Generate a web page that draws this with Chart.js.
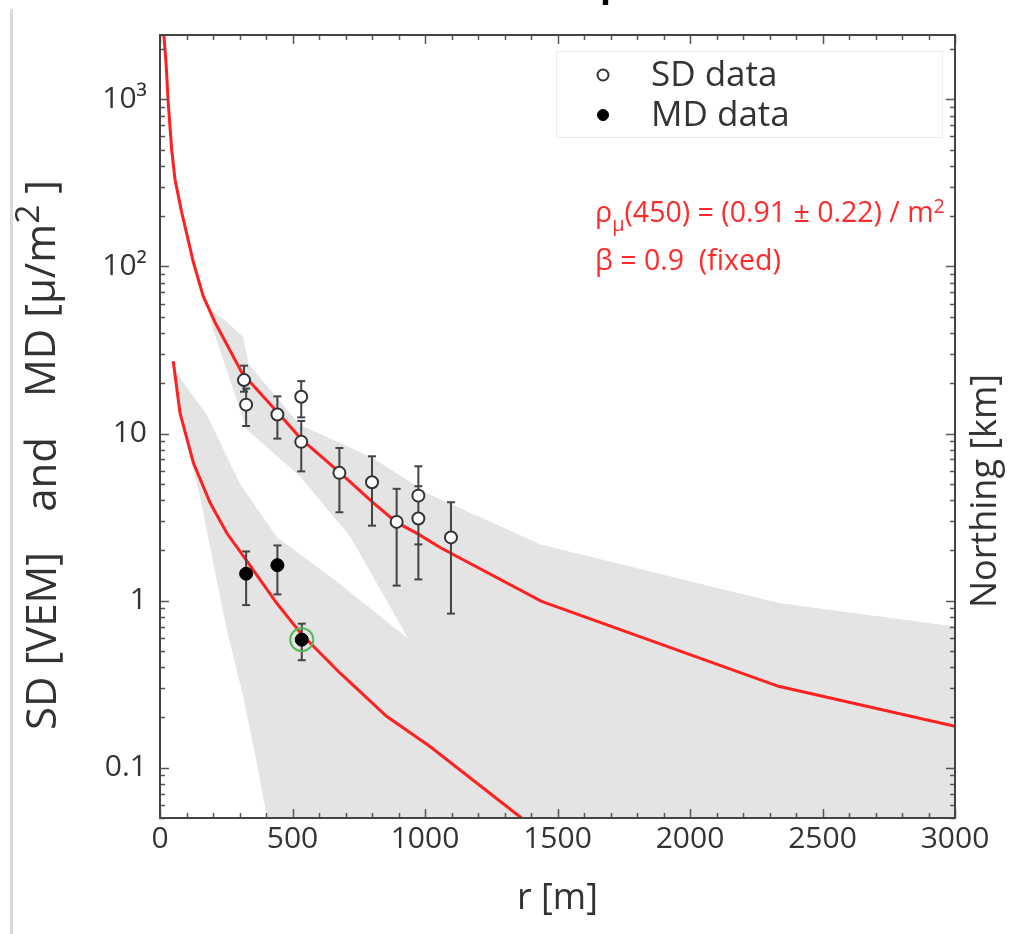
<!DOCTYPE html>
<html><head><meta charset="utf-8">
<script src="https://cdn.jsdelivr.net/npm/chart.js@4/dist/chart.umd.min.js"></script>
<style>
html,body{margin:0;padding:0;background:#fff;}
#wrap{position:relative;width:1010px;height:934px;overflow:hidden;font-family:'Open Sans',sans-serif;}
canvas{position:absolute;left:0;top:0;}
.pageline{position:absolute;left:10px;top:9px;width:3px;height:925px;background:#d9d9d9;}
.frag{position:absolute;left:600px;top:-35px;font:bold 36px/36px 'Open Sans',sans-serif;color:#000;}
.ytitle{position:absolute;width:550px;height:50px;left:-235px;top:430px;transform:rotate(-90deg);display:flex;justify-content:space-between;align-items:center;font-size:42px;color:#333;white-space:nowrap;line-height:50px;}
.rtitle{position:absolute;width:240px;height:44px;left:863px;top:469px;transform:rotate(-90deg);text-align:center;font-size:36px;line-height:44px;color:#333;white-space:nowrap;}
.ann{position:absolute;left:595px;font-size:28.5px;line-height:32px;color:#ff2a2a;white-space:pre;}
.sub{font-size:70%;position:relative;top:0.45em;}
.sup{font-size:70%;position:relative;top:-0.45em;}
.sup2{font-size:80%;position:relative;top:-0.45em;}
</style></head>
<body>
<div id="wrap">
<canvas id="c" width="1010" height="934"></canvas>
<div class="pageline"></div>
<div class="frag">p</div>
<div class="ytitle"><span>SD [VEM]</span><span>and</span><span>MD [μ/m<span class="sup2">2</span> ]</span></div>
<div class="rtitle">Northing [km]</div>
<div class="ann" style="top:195px">ρ<span class="sub">μ</span>(450) = (0.91 ± 0.22) / m<span class="sup">2</span></div>
<div class="ann" style="top:243px">β = 0.9  (fixed)</div>
</div>
<script>
// ---- tick labels ----
const xTickVals = [0, 500, 1000, 1500, 2000, 2500, 3000];
const xTickLabels = ['0', '500', '1000', '1500', '2000', '2500', '3000'];
const yTickVals = [0.1, 1, 10, 100, 1000];
const yTickLabels = ['0.1', '1', '10', '10²', '10³'];

// ---- SD data (open circles) ----
const sdR  = [317, 325, 443, 533, 533, 677, 800, 893, 975, 975, 1098];
const sdV  = [20.9, 14.9, 13.0, 16.6, 8.92, 5.82, 5.11, 2.96, 4.25, 3.10, 2.39];
const sdLo = [17.8, 11.1, 9.33, 12.5, 5.94, 3.38, 2.81, 1.23, 2.17, 1.34, 0.836];
const sdHi = [25.5, 18.6, 16.7, 20.6, 11.9, 8.2, 7.31, 4.67, 6.37, 4.84, 3.88];

// ---- MD data (filled) ----
const mdR  = [325, 443, 535];
const mdV  = [1.45, 1.63, 0.584];
const mdLo = [0.94, 1.09, 0.44];
const mdHi = [1.97, 2.14, 0.728];

// highlighted MD station
const hlR = [535];
const hlV = [0.584];

// ---- fitted LDF curves ----
const fitSdR = [14.5, 22.6, 31, 44, 56.6, 82, 126, 163, 208, 310, 440, 535, 679, 805, 893, 975, 1057, 1440, 2334, 3000];
const fitSdV = [2450, 1667, 959, 502, 332, 211, 106, 66.4, 46.2, 23, 13.6, 9.2, 5.84, 3.85, 2.94, 2.5, 2.08, 0.99, 0.307, 0.177];
const fitMdR = [50, 75.5, 126, 189, 252, 333, 440, 535, 679, 855, 1019, 1364, 1400];
const fitMdV = [27.1, 13.3, 6.68, 3.85, 2.54, 1.68, 0.968, 0.626, 0.369, 0.203, 0.134, 0.05, 0.045];

// ---- uncertainty bands ----
const bandSdUpR = [185, 250, 313, 335, 420, 528, 800, 1019, 1440, 2334, 3000];
const bandSdUpV = [56, 47, 38, 26, 18, 11.3, 7.2, 4.3, 2.16, 0.969, 0.70];
const bandSdLoR = [185, 200, 327, 528, 717, 937, 941, 3000];
const bandSdLoV = [54, 42, 10.6, 5.55, 2.43, 0.592, 0.03, 0.03];
const bandMdUpR = [55, 100, 176, 302, 440, 667, 937, 990];
const bandMdUpV = [24, 19, 13, 5.0, 2.4, 1.3, 0.592, 0.5];
const bandMdLoR = [55, 88, 151, 201, 252, 314, 365, 404, 412, 990];
const bandMdLoV = [22, 10.6, 4.2, 1.68, 0.67, 0.267, 0.107, 0.05, 0.03, 0.03];

const pts = (xs, ys) => xs.map((x, i) => ({x, y: ys[i]}));
const errPts = (xs, lo, hi) => xs.flatMap((x, i) => [{x, y: lo[i]}, {x, y: hi[i]}, {x, y: null}]);

const X_MIN = 0, X_MAX = 3000, Y_MIN = 0.05, Y_MAX = 2430;
const GRAY = '#e4e4e4', RED = '#ff2020', BAR = '#444';

const bandDs = (data, fill) => ({data, fill, backgroundColor: GRAY, borderWidth: 0, pointRadius: 0, order: 100, label: ''});

const frameTicks = {
  id: 'frameTicks',
  afterDatasetsDraw(chart) {
    const {ctx, chartArea: a, scales: {x, y}} = chart;
    ctx.save();
    ctx.strokeStyle = '#555';
    ctx.lineWidth = 1.5;
    const seg = (x1, y1, x2, y2) => { ctx.beginPath(); ctx.moveTo(x1, y1); ctx.lineTo(x2, y2); ctx.stroke(); };
    for (let v = X_MIN; v <= X_MAX; v += 100) {
      const px = Math.round(x.getPixelForValue(v)) + 0.5;
      const len = xTickVals.includes(v) ? 9 : 5;
      seg(px, a.bottom, px, a.bottom - len);
      seg(px, a.top, px, a.top + len);
    }
    for (let e = -2; e <= 3; e++) {
      for (let m = 1; m <= 9; m++) {
        const v = m * Math.pow(10, e);
        if (v < Y_MIN || v > Y_MAX) continue;
        const py = Math.round(y.getPixelForValue(v)) + 0.5;
        const len = m === 1 ? 9 : 5;
        seg(a.left, py, a.left + len, py);
        seg(a.right, py, a.right - len, py);
      }
    }
    ctx.lineWidth = 2;
    ctx.strokeStyle = '#444';
    ctx.strokeRect(a.left, a.top, a.right - a.left, a.bottom - a.top);
    ctx.restore();
  }
};

const legendBox = {
  id: 'legendBox',
  afterDraw(chart) {
    const {ctx} = chart;
    ctx.save();
    ctx.fillStyle = '#fff';
    ctx.strokeStyle = '#ececec';
    ctx.lineWidth = 1;
    ctx.fillRect(556, 51, 386, 86);
    ctx.strokeRect(556.5, 51.5, 386, 86);
    const items = chart.data.datasets.filter(d => d.legend);
    items.forEach((d, i) => {
      const cy = 75 + i * 40;
      ctx.fillStyle = d.backgroundColor;
      ctx.strokeStyle = d.borderColor;
      ctx.lineWidth = d.borderWidth;
      Chart.helpers.drawPoint(ctx, {pointStyle: 'circle', radius: 5.5, borderWidth: d.borderWidth, rotation: 0}, 603, cy);
      ctx.fillStyle = '#333';
      ctx.font = "35px 'Open Sans', sans-serif";
      ctx.textBaseline = 'middle';
      ctx.textAlign = 'left';
      ctx.fillText(d.label, 651, cy + 1);
    });
    ctx.restore();
  }
};

Chart.defaults.font.family = "'Open Sans', sans-serif";

new Chart(document.getElementById('c'), {
  type: 'line',
  data: {
    datasets: [
      bandDs(pts(bandSdUpR, bandSdUpV), '+1'),
      bandDs(pts(bandSdLoR, bandSdLoV), false),
      bandDs(pts(bandMdUpR, bandMdUpV), '+1'),
      bandDs(pts(bandMdLoR, bandMdLoV), false),
      {label: 'SD fit', data: pts(fitSdR, fitSdV), borderColor: RED, borderWidth: 3, pointRadius: 0, fill: false, order: 50},
      {label: 'MD fit', data: pts(fitMdR, fitMdV), borderColor: RED, borderWidth: 3, pointRadius: 0, fill: false, order: 50},
      {label: 'SD err', data: errPts(sdR, sdLo, sdHi), borderColor: BAR, borderWidth: 2, pointStyle: 'line', pointRadius: 4, pointBorderWidth: 2, pointBorderColor: BAR, spanGaps: false, fill: false, order: 20},
      {label: 'MD err', data: errPts(mdR, mdLo, mdHi), borderColor: BAR, borderWidth: 2, pointStyle: 'line', pointRadius: 4, pointBorderWidth: 2, pointBorderColor: BAR, spanGaps: false, fill: false, order: 20},
      {label: 'SD data', legend: true, data: pts(sdR, sdV), showLine: false, pointStyle: 'circle', pointRadius: 6, borderWidth: 2, borderColor: '#333', backgroundColor: '#fff', pointBackgroundColor: '#fff', pointBorderColor: '#333', pointBorderWidth: 2, order: 10},
      {label: 'MD data', legend: true, data: pts(mdR, mdV), showLine: false, pointStyle: 'circle', pointRadius: 6.5, borderWidth: 1, borderColor: '#000', backgroundColor: '#000', pointBackgroundColor: '#000', pointBorderColor: '#000', order: 10},
      {label: 'selected', data: pts(hlR, hlV), showLine: false, pointStyle: 'circle', pointRadius: 11.5, pointBorderWidth: 2, pointBorderColor: '#56b956', pointBackgroundColor: 'rgba(0,0,0,0)', order: 5}
    ]
  },
  options: {
    responsive: false,
    devicePixelRatio: 1,
    animation: false,
    events: [],
    layout: {padding: {top: 35, left: 0, right: 0, bottom: 0}},
    plugins: {legend: {display: false}, tooltip: {enabled: false}, title: {display: false}},
    scales: {
      x: {
        type: 'linear', position: 'bottom', min: X_MIN, max: X_MAX,
        grid: {display: false, drawTicks: false}, border: {display: false},
        afterBuildTicks: s => { s.ticks = xTickVals.map(v => ({value: v})); },
        afterFit: s => { s.height = 116; },
        ticks: {autoSkip: false, maxRotation: 0, padding: 3, color: '#333', font: {size: 30},
          callback: v => xTickLabels[xTickVals.indexOf(v)] ?? ''},
        title: {display: true, text: 'r [m]', color: '#333', font: {size: 36}, padding: {top: 0, bottom: 14}}
      },
      y: {
        type: 'logarithmic', position: 'left', min: Y_MIN, max: Y_MAX,
        grid: {display: false, drawTicks: false}, border: {display: false},
        afterBuildTicks: s => { s.ticks = yTickVals.map(v => ({value: v})); },
        afterFit: s => { s.width = 160; },
        ticks: {autoSkip: false, padding: 13, color: '#333', font: {size: 30},
          callback: v => yTickLabels[yTickVals.indexOf(v)] ?? ''}
      },
      y2: {
        type: 'logarithmic', position: 'right', min: Y_MIN, max: Y_MAX,
        grid: {display: false, drawTicks: false}, border: {display: false},
        ticks: {display: false},
        afterFit: s => { s.width = 55; }
      }
    }
  },
  plugins: [frameTicks, legendBox]
});
</script>
</body></html>
